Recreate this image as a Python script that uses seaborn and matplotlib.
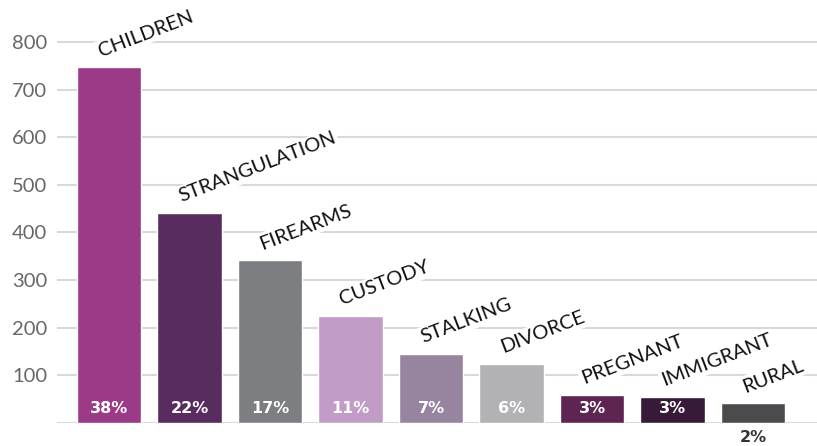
import matplotlib
matplotlib.use("Agg")
import matplotlib.pyplot as plt
import seaborn as sns
import pandas as pd

categories = ["CHILDREN", "STRANGULATION", "FIREARMS", "CUSTODY", "STALKING",
              "DIVORCE", "PREGNANT", "IMMIGRANT", "RURAL"]
values = [747, 441, 342, 225, 145, 124, 59, 55, 42]
percents = ["38%", "22%", "17%", "11%", "7%", "6%", "3%", "3%", "2%"]
colors = ["#9B3A87", "#582C5E", "#7D7E82", "#C09CC7", "#97849F",
          "#B2B2B5", "#5E2452", "#361A38", "#4B4B4D"]
yticks = [100, 200, 300, 400, 500, 600, 700, 800]

sns.set_theme(style="white")
plt.rcParams["font.family"] = ["Lato", "DejaVu Sans"]

df = pd.DataFrame({"category": categories, "value": values})

fig = plt.figure(figsize=(8.17, 4.46), dpi=100)
ax = fig.add_axes([0.0698, 0.0516, 0.9302, 0.9484])

for y in [0] + yticks:
    ax.axhline(y, color="#d9d9d9", lw=1.5, zorder=0)

sns.barplot(data=df, x="category", y="value", hue="category",
            palette=colors, legend=False, width=0.8, saturation=1,
            ax=ax, zorder=2)

ax.set_xlim(-0.646, 8.795)
ax.set_ylim(0, 888)
ax.set_yticks(yticks)
ax.set_yticklabels([str(t) for t in yticks], fontsize=14.5, color="#666666")
ax.tick_params(axis="y", length=0, pad=7)
ax.set_xticks([])
ax.set_xlabel("")
ax.set_ylabel("")
for s in ax.spines.values():
    s.set_visible(False)

for i, (v, cat, p) in enumerate(zip(values, categories, percents)):
    ax.text(i - 0.1, v + 22, cat, rotation=21, rotation_mode="anchor",
            ha="left", va="baseline", fontsize=14.5, color="#111111",
            family=["Lato", "DejaVu Sans"],
            bbox=dict(facecolor="white", edgecolor="none", pad=1.5),
            zorder=3)
    if i == len(values) - 1:
        ax.text(i, -30, p, ha="center", va="center", fontsize=11.5,
                fontweight="bold", color="#333333", clip_on=False,
                family=["DejaVu Sans"])
    else:
        ax.text(i, 30, p, ha="center", va="center", fontsize=11.5,
                fontweight="bold", color="white", zorder=4,
                family=["DejaVu Sans"])

fig.savefig("out.png", dpi=100)
